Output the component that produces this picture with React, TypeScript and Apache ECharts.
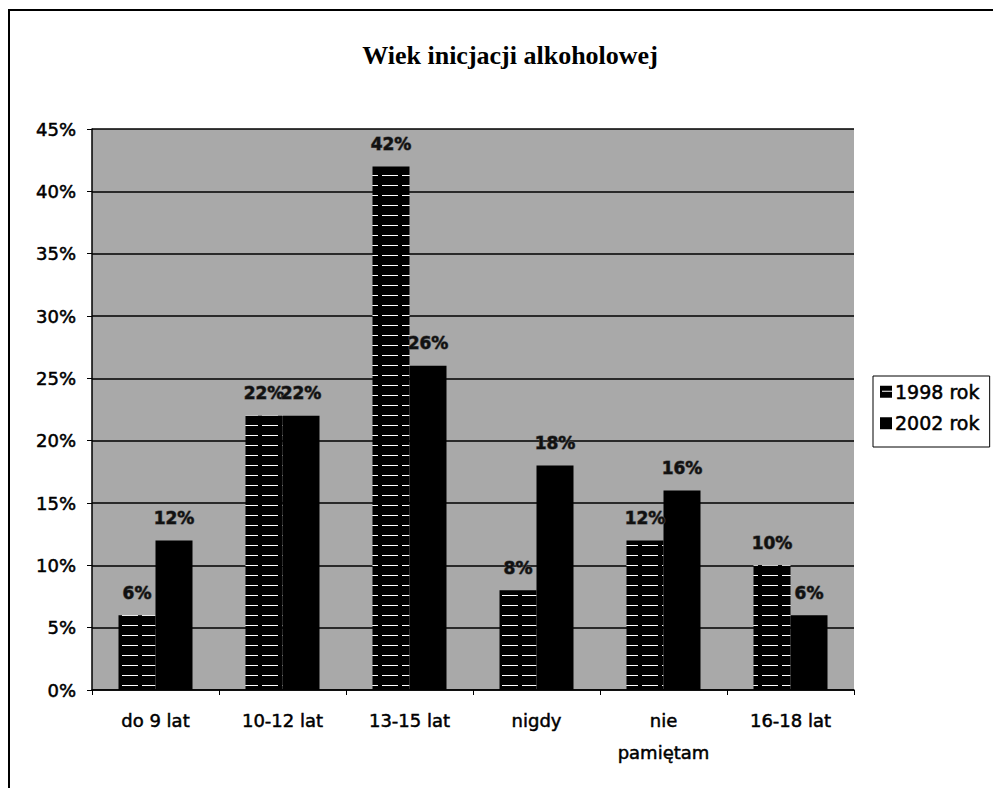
import React, { useEffect, useRef } from "react";
import * as echarts from "echarts";

const categories = ["do 9 lat", "10-12 lat", "13-15 lat", "nigdy", "nie\npamiętam", "16-18 lat"];
const seriesNames = ["1998 rok", "2002 rok"];
const values1998 = [6, 22, 42, 8, 12, 10];
const values2002 = [12, 22, 26, 18, 16, 6];
const yTicks = [0, 5, 10, 15, 20, 25, 30, 35, 40, 45];

const FONT = "'DejaVu Sans', Verdana, sans-serif";

function makePattern(): string {
  const svg =
    "<svg xmlns='http://www.w3.org/2000/svg' width='20' height='10'>" +
    "<rect width='20' height='10' fill='#000'/>" +
    "<rect x='2' y='5' width='16' height='1' fill='#fff'/>" +
    "</svg>";
  return "data:image/svg+xml;charset=utf-8," + encodeURIComponent(svg);
}

export default function App() {
  const ref = useRef<HTMLDivElement>(null);
  useEffect(() => {
    if (!ref.current) return;
    const chart = echarts.init(ref.current, undefined, { renderer: "svg" });
    const pattern: any = { image: makePattern(), repeat: "repeat", imageWidth: 20, imageHeight: 10 };
    const labelCfg = {
      show: true,
      position: "top" as const,
      distance: 14,
      color: "#111",
      fontFamily: FONT,
      fontSize: 17,
      fontWeight: "bold" as const,
      textBorderColor: "#555",
      textBorderWidth: 1,
      formatter: (p: any) => p.value + "%",
    };
    const axisText = {
      fontFamily: FONT,
      fontSize: 18,
      color: "#000",
      textBorderColor: "#000",
      textBorderWidth: 0.5,
    };
    chart.setOption({
      animation: false,
      backgroundColor: "#fff",
      title: {
        text: "Wiek inicjacji alkoholowej",
        left: 505,
        top: 37,
        textAlign: "center",
        textStyle: { fontFamily: "'Liberation Serif', 'Times New Roman', serif", fontSize: 26, fontWeight: "bold", color: "#000" },
      },
      graphic: [
        {
          type: "rect",
          shape: { x: 9, y: 10, width: 1000, height: 800 },
          style: { fill: "none", stroke: "#000", lineWidth: 2 },
          silent: true,
        },
      ],
      legend: {
        orient: "vertical",
        left: 873,
        top: 376,
        data: seriesNames,
        itemWidth: 12,
        itemHeight: 12,
        itemGap: 12,
        padding: [6, 10, 14, 7],
        borderColor: "#000",
        borderWidth: 1,
        backgroundColor: "#fff",
        textStyle: { ...axisText, fontSize: 19, padding: [0, 0, 0, -2] },
        icon: "rect",
      },
      grid: {
        left: 92,
        right: 139,
        top: 129,
        bottom: 98,
        show: true,
        backgroundColor: "#a9a9a9",
        borderWidth: 0,
      },
      xAxis: {
        type: "category",
        data: categories,
        axisLine: { lineStyle: { color: "#000", width: 1.5 } },
        axisTick: { show: true, length: 5, inside: false, lineStyle: { color: "#000" } },
        axisLabel: { ...axisText, margin: 14, lineHeight: 32 },
      },
      yAxis: {
        type: "value",
        min: 0,
        max: 45,
        interval: 5,
        axisLine: { show: true, lineStyle: { color: "#000", width: 1.5 } },
        axisTick: { show: true, length: 5, lineStyle: { color: "#000" } },
        axisLabel: {
          ...axisText,
          margin: 16,
          formatter: (v: number) => (yTicks.includes(v) ? v + "%" : ""),
        },
        splitLine: { show: true, lineStyle: { color: "#000", width: 1.5 } },
      },
      series: [
        {
          name: seriesNames[0],
          type: "bar",
          data: values1998,
          barWidth: 37,
          barGap: "0%",
          itemStyle: { color: pattern },
          label: labelCfg,
        },
        {
          name: seriesNames[1],
          type: "bar",
          data: values2002,
          barWidth: 37,
          barGap: "0%",
          itemStyle: { color: "#000" },
          label: labelCfg,
        },
      ],
    });
    return () => chart.dispose();
  }, []);
  return <div ref={ref} style={{ position: "fixed", left: 0, top: 0, width: 993, height: 788 }} />;
}
